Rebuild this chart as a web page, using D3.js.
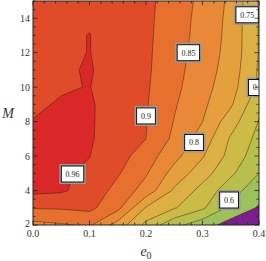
<!DOCTYPE html>
<html>
<head>
<meta charset="utf-8">
<script src="https://cdn.jsdelivr.net/npm/d3@7"></script>
<style>
  body { margin: 0; background: #fff; }
  text { font-family: "Liberation Serif", "DejaVu Serif", serif; }
</style>
</head>
<body>
<svg id="chart" width="266" height="261"></svg>
<script>
// grid: columns are e0, rows are M (2 .. 15)
const e0Values = [0, 0.05, 0.1, 0.15, 0.2, 0.25, 0.3, 0.35, 0.4];
const mValues = [2, 3, 4, 5, 6, 7, 8, 9, 10, 11, 12, 13, 14, 15];
const zRows = [
  [0.835, 0.845, 0.856, 0.780, 0.686, 0.614, 0.571, 0.530, 0.480], // M=2
  [0.903, 0.905, 0.912, 0.864, 0.746, 0.704, 0.658, 0.586, 0.545], // M=3
  [0.975, 0.968, 0.935, 0.882, 0.830, 0.742, 0.683, 0.621, 0.570], // M=4
  [0.968, 0.966, 0.952, 0.905, 0.855, 0.781, 0.722, 0.659, 0.600], // M=5
  [0.967, 0.968, 0.961, 0.920, 0.875, 0.815, 0.754, 0.683, 0.620], // M=6
  [0.967, 0.968, 0.966, 0.930, 0.900, 0.839, 0.779, 0.694, 0.635], // M=7
  [0.961, 0.966, 0.966, 0.935, 0.902, 0.848, 0.800, 0.722, 0.648], // M=8
  [0.955, 0.963, 0.966, 0.936, 0.904, 0.855, 0.810, 0.757, 0.660], // M=9
  [0.950, 0.957, 0.961, 0.937, 0.906, 0.862, 0.818, 0.770, 0.690], // M=10
  [0.948, 0.953, 0.964, 0.937, 0.908, 0.866, 0.824, 0.778, 0.694], // M=11
  [0.947, 0.952, 0.961, 0.937, 0.909, 0.869, 0.828, 0.783, 0.698], // M=12
  [0.946, 0.951, 0.961, 0.936, 0.910, 0.872, 0.832, 0.785, 0.697], // M=13
  [0.945, 0.950, 0.955, 0.935, 0.911, 0.874, 0.834, 0.787, 0.697], // M=14
  [0.945, 0.950, 0.955, 0.935, 0.912, 0.877, 0.837, 0.790, 0.697]  // M=15
];
const levels = [0.55, 0.6, 0.65, 0.7, 0.75, 0.8, 0.85, 0.9, 0.96];
// one colour below the first level, then one per band above each level
const bandColors = ['#7a1f8c', '#9cc15b', '#b7bf4d', '#cdbb47', '#dcb044',
  '#e59f3d', '#e98937', '#e8702f', '#e04b2a', '#da2727'];
const contourLabels = [
  { text: '0.96', e0: 0.070, m: 4.96 },
  { text: '0.9', e0: 0.200, m: 8.33 },
  { text: '0.85', e0: 0.275, m: 12.0 },
  { text: '0.8', e0: 0.285, m: 6.79 },
  { text: '0.75', e0: 0.379, m: 14.2 },
  { text: '0.7', e0: 0.398, m: 9.98 },
  { text: '0.6', e0: 0.347, m: 3.45 }
];
const xTicks = [0, 0.1, 0.2, 0.3, 0.4];
const yTicks = [2, 4, 6, 8, 10, 12, 14];

const margin = { left: 33, right: 7, top: 1, bottom: 36 };
const width = 266, height = 261;
const svg = d3.select('#chart');

const x = d3.scaleLinear().domain([0, 0.4]).range([margin.left, width - margin.right]);
const y = d3.scaleLinear().domain([2, 15]).range([height - margin.bottom, margin.top]);

const nx = e0Values.length, ny = mValues.length;
// d3.contours puts sample i at grid coordinate i + 0.5
const gx = d3.scaleLinear().domain([0.5, nx - 0.5]).range([x(e0Values[0]), x(e0Values[nx - 1])]);
const gy = d3.scaleLinear().domain([0.5, ny - 0.5]).range([y(mValues[0]), y(mValues[ny - 1])]);

const grid = zRows.flat();
const contours = d3.contours().size([nx, ny]).thresholds(levels)(grid);
const path = d3.geoPath(d3.geoTransform({
  point(px, py) { this.stream.point(gx(px), gy(py)); }
}));

svg.append('clipPath').attr('id', 'plot-clip')
  .append('rect')
  .attr('x', x(0)).attr('y', y(15))
  .attr('width', x(0.4) - x(0)).attr('height', y(2) - y(15));

const plot = svg.append('g').attr('clip-path', 'url(#plot-clip)');

plot.append('rect')
  .attr('x', x(0)).attr('y', y(15))
  .attr('width', x(0.4) - x(0)).attr('height', y(2) - y(15))
  .attr('fill', bandColors[0]);

plot.selectAll('path.band')
  .data(contours)
  .join('path')
  .attr('class', 'band')
  .attr('d', path)
  .attr('fill', (d, i) => bandColors[i + 1])
  .attr('stroke', '#2b1a10')
  .attr('stroke-opacity', 0.75)
  .attr('stroke-width', 0.6);

// contour labels
const boxW = d => d.text.length * 3.6 + 8;
const lab = plot.selectAll('g.lab')
  .data(contourLabels)
  .join('g')
  .attr('class', 'lab')
  .attr('transform', d => `translate(${x(d.e0)},${y(d.m)})`);

lab.append('rect')
  .attr('x', d => -boxW(d) / 2 - 1)
  .attr('y', -9)
  .attr('width', d => boxW(d) + 2)
  .attr('height', 18)
  .attr('fill', '#fff')
  .attr('stroke', '#9a9a9a')
  .attr('stroke-width', 2);

lab.append('rect')
  .attr('x', d => -boxW(d) / 2)
  .attr('y', -8)
  .attr('width', boxW)
  .attr('height', 16)
  .attr('fill', '#fff')
  .attr('stroke', '#111')
  .attr('stroke-width', 1);

lab.append('text')
  .attr('text-anchor', 'middle')
  .attr('dy', '0.35em')
  .attr('font-size', 8)
  .attr('fill', '#222')
  .text(d => d.text);

// frame
svg.append('rect')
  .attr('x', x(0)).attr('y', y(15))
  .attr('width', x(0.4) - x(0)).attr('height', y(2) - y(15))
  .attr('fill', 'none')
  .attr('stroke', '#222')
  .attr('stroke-width', 1);

// ticks on all four sides, pointing inward
const xMinor = d3.range(0, 0.4001, 0.02);
const yMinor = d3.range(2, 15.001, 0.5);
const tick = svg.append('g').attr('stroke', '#222').attr('stroke-width', 0.8);

xMinor.forEach(v => {
  const major = xTicks.some(t => Math.abs(t - v) < 1e-6);
  const len = major ? 4.5 : 2.5;
  tick.append('line').attr('x1', x(v)).attr('x2', x(v))
    .attr('y1', y(2)).attr('y2', y(2) - len);
  tick.append('line').attr('x1', x(v)).attr('x2', x(v))
    .attr('y1', y(15)).attr('y2', y(15) + len);
});
yMinor.forEach(v => {
  const major = yTicks.some(t => Math.abs(t - v) < 1e-6);
  const len = major ? 4.5 : 2.5;
  tick.append('line').attr('y1', y(v)).attr('y2', y(v))
    .attr('x1', x(0)).attr('x2', x(0) + len);
  tick.append('line').attr('y1', y(v)).attr('y2', y(v))
    .attr('x1', x(0.4)).attr('x2', x(0.4) - len);
});

svg.append('g').selectAll('text')
  .data(xTicks)
  .join('text')
  .attr('x', d => x(d))
  .attr('y', y(2) + 11.5)
  .attr('text-anchor', 'middle')
  .attr('font-size', 10)
  .attr('fill', '#333')
  .text(d => d.toFixed(1));

svg.append('g').selectAll('text')
  .data(yTicks)
  .join('text')
  .attr('x', x(0) - 3)
  .attr('y', d => y(d))
  .attr('dy', d => d === 2 ? '0.2em' : '0.35em')
  .attr('text-anchor', 'end')
  .attr('font-size', 10)
  .attr('fill', '#333')
  .text(d => d);

// axis titles
const xt = svg.append('text')
  .attr('x', (x(0) + x(0.4)) / 2)
  .attr('y', 256)
  .attr('text-anchor', 'middle')
  .attr('font-size', 14)
  .attr('fill', '#333');
xt.append('tspan').attr('font-style', 'italic').text('e');
xt.append('tspan').attr('font-size', 10).attr('dy', 3).text('0');

svg.append('text')
  .attr('x', 8)
  .attr('y', (y(2) + y(15)) / 2)
  .attr('dy', '0.35em')
  .attr('text-anchor', 'middle')
  .attr('font-size', 14)
  .attr('font-style', 'italic')
  .attr('fill', '#333')
  .text('M');
</script>
</body>
</html>
